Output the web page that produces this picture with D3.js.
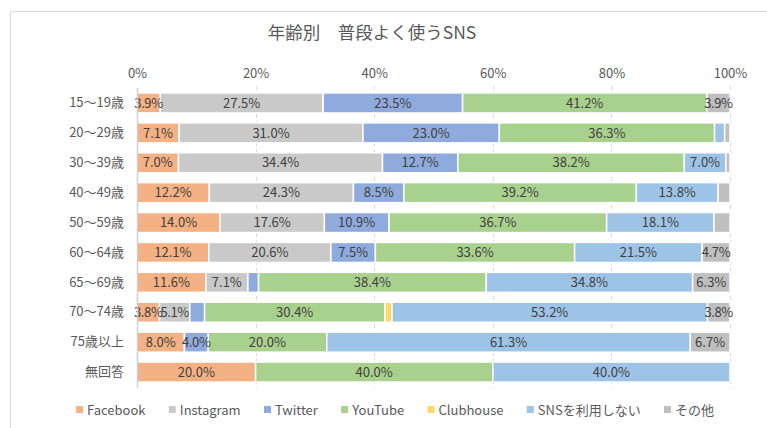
<!DOCTYPE html>
<html><head><meta charset="utf-8">
<script src="https://cdn.jsdelivr.net/npm/d3@7/dist/d3.min.js"></script>
<style>
body{margin:0;background:#fff;}
svg{display:block;font-family:"Noto Sans CJK JP","Noto Sans",sans-serif;}
</style></head>
<body><svg id="c" width="767" height="428"></svg>
<script>
const categories = ["15～19歳","20～29歳","30～39歳","40～49歳","50～59歳","60～64歳","65～69歳","70～74歳","75歳以上","無回答"];
const seriesNames = ["Facebook","Instagram","Twitter","YouTube","Clubhouse","SNSを利用しない","その他"];
const facebook  = [3.9, 7.1, 7.0, 12.2, 14.0, 12.1, 11.6, 3.8, 8.0, 20.0];
const instagram = [27.5, 31.0, 34.4, 24.3, 17.6, 20.6, 7.1, 5.1, 0, 0];
const twitter   = [23.5, 23.0, 12.7, 8.5, 10.9, 7.5, 1.8, 2.5, 4.0, 0];
const youtube   = [41.2, 36.3, 38.2, 39.2, 36.7, 33.6, 38.4, 30.4, 20.0, 40.0];
const clubhouse = [0, 0, 0, 0, 0, 0, 0, 1.2, 0, 0];
const noSns     = [0, 1.7, 7.0, 13.8, 18.1, 21.5, 34.8, 53.2, 61.3, 40.0];
const other     = [3.9, 0.9, 0.7, 2.0, 2.7, 4.7, 6.3, 3.8, 6.7, 0];
const xTicks = [0, 20, 40, 60, 80, 100];
const colors = ["#F4B183","#C9C9C9","#8FAADC","#A9D18E","#FFD966","#9DC3E6","#BFBFBF"];
const title = "年齢別　普段よく使うSNS";

const series = [facebook, instagram, twitter, youtube, clubhouse, noSns, other];
const rows = categories.map((c,i)=>{const o={cat:c}; seriesNames.forEach((s,j)=>o[s]=series[j][i]); return o;});
const stacked = d3.stack().keys(seriesNames)(rows);

const svg = d3.select("#c");
const x = d3.scaleLinear().domain([0,100]).range([137,730]);
const y = d3.scaleBand().domain(categories).range([88,387]).paddingInner(0.33).paddingOuter(0.165);

// frame
svg.append("rect").attr("x",10.5).attr("y",11.5).attr("width",800).attr("height",500)
  .attr("fill","none").attr("stroke","#d9d9d9").attr("stroke-width",1);

// title
svg.append("text").attr("x",372).attr("y",39).attr("text-anchor","middle")
  .attr("font-size",17.5).attr("fill","#595959").text(title);

// grid
svg.append("g").selectAll("line").data(xTicks.slice(1)).join("line")
  .attr("x1",d=>Math.round(x(d))+0.5).attr("x2",d=>Math.round(x(d))+0.5)
  .attr("y1",86).attr("y2",388).attr("stroke","#d9d9d9").attr("stroke-dasharray","4,3");

// top axis
const ax = svg.append("g").attr("transform","translate(0,78)")
  .call(d3.axisTop(x).tickValues(xTicks).tickFormat(d=>d+"%").tickSize(0).tickPadding(0));
ax.select(".domain").remove();
ax.selectAll("text").attr("font-size",13).attr("fill","#595959").attr("font-family","'Noto Sans CJK JP',sans-serif");

// bars
const g = svg.append("g");
stacked.forEach((s,j)=>{
  g.append("g").selectAll("rect").data(s.filter(d=>d[1]-d[0]>0)).join("rect")
    .attr("x",d=>x(d[0])).attr("width",d=>x(d[1])-x(d[0]))
    .attr("y",d=>y(d.data.cat)).attr("height",y.bandwidth())
    .attr("fill",colors[j]).attr("stroke","#fff").attr("stroke-width",1.5);
});
// labels
stacked.forEach((s,j)=>{
  g.append("g").selectAll("text").data(s.filter(d=>d[1]-d[0]>=3.5)).join("text")
    .attr("x",d=>(x(d[0])+x(d[1]))/2).attr("y",d=>y(d.data.cat)+y.bandwidth()/2)
    .attr("dy","0.36em").attr("text-anchor","middle").attr("font-size",13).attr("fill","#404040")
    .attr("letter-spacing",(d)=>(d[1]-d[0])<6 ? -0.4 : 0)
    .text(d=>(d[1]-d[0]).toFixed(1)+"%");
});

// left axis
svg.append("line").attr("x1",137.5).attr("x2",137.5).attr("y1",88).attr("y2",388)
  .attr("stroke","#d0d0d0").attr("stroke-width",1.5);
const ay = svg.append("g").attr("transform","translate(124,0)")
  .call(d3.axisLeft(y).tickSize(0).tickPadding(0));
ay.select(".domain").remove();
ay.selectAll("text").attr("font-size",13).attr("fill","#595959").attr("font-family","'Noto Sans CJK JP',sans-serif");

// legend
const leg = svg.append("g").attr("transform","translate(0,410)");
const items = seriesNames.map((n,j)=>{
  const it = leg.append("g");
  it.append("rect").attr("x",0).attr("y",-4).attr("width",7).attr("height",7).attr("fill",colors[j]);
  const t = it.append("text").attr("x",11).attr("y",0).attr("dy","0.35em").attr("font-size",13).attr("fill","#595959").text(n);
  return {it, w: t.node().getComputedTextLength()+11};
});
const legL = 76, legR = 714;
const totalW = d3.sum(items, d=>d.w);
const gap = (legR - legL - totalW)/(items.length-1);
let lx = legL;
items.forEach(d=>{ d.it.attr("transform",`translate(${lx},0)`); lx += d.w + gap; });
</script></body></html>
